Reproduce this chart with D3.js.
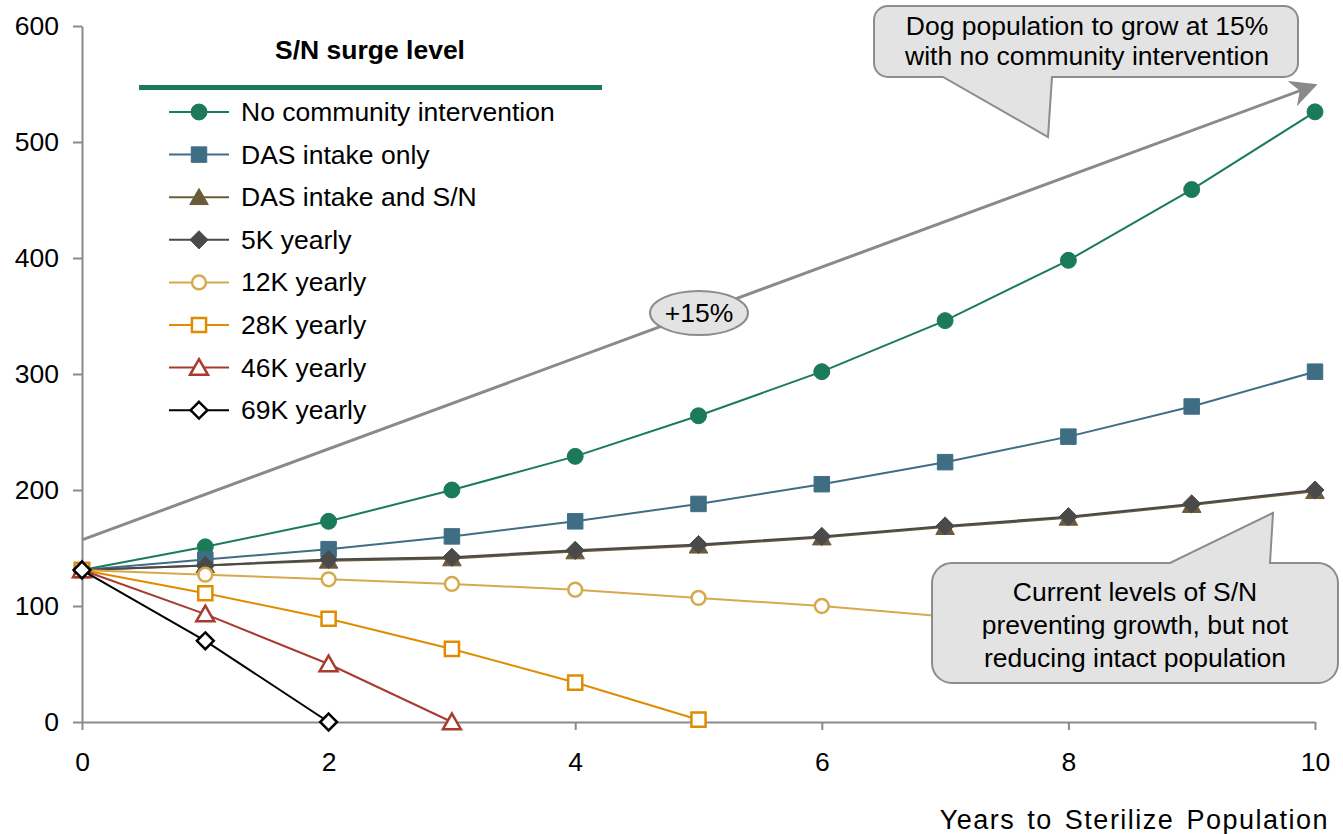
<!DOCTYPE html>
<html>
<head>
<meta charset="utf-8">
<script src="https://cdn.jsdelivr.net/npm/d3@7"></script>
<style>
  html, body { margin: 0; padding: 0; background: #fff; }
  svg { display: block; font-family: "Liberation Sans", Arial, sans-serif; }
</style>
</head>
<body>
<svg id="chart" width="1343" height="834"></svg>
<script>
// ---------------- DATA ----------------
const years = [0, 1, 2, 3, 4, 5, 6, 7, 8, 9, 10];
const seriesNames = ["No community intervention", "DAS intake only", "DAS intake and S/N",
  "5K yearly", "12K yearly", "28K yearly", "46K yearly", "69K yearly"];
const noIntervention = [131, 151, 173, 200, 229, 264, 302, 346, 398, 459, 526];
const dasIntakeOnly  = [131, 140, 149, 160, 173, 188, 205, 224, 246, 272, 302];
const dasIntakeSN    = [131, 135, 139, 141, 147, 152, 159, 168, 176, 187, 199];
const k5Yearly       = [131, 135, 140, 142, 148, 153, 160, 169, 177, 188, 200];
const k12Yearly      = [131, 127, 123, 119, 114, 107, 100, 91, 82, 72, 61];
const k28Yearly      = [131, 111, 89, 63, 34, 2];
const k46Yearly      = [131, 93, 50, 0];
const k69Yearly      = [131, 70, 0];
const yTicks = [0, 100, 200, 300, 400, 500, 600];
const xTicks = [0, 2, 4, 6, 8, 10];
const growthLine = [[0, 157], [10, 549]];   // "+15%" arrow
const legendTitle = "S/N surge level";
const xTitle = "Years to Sterilize Population";
const callout1 = ["Dog population to grow at 15%", "with no community intervention"];
const callout2 = ["Current levels of S/N", "preventing growth, but not", "reducing intact population"];
const growthLabel = "+15%";

// ---------------- STYLE ----------------
const styles = [
  { color: "#1b7b58", shape: "circle",   filled: true },
  { color: "#3f6e84", shape: "square",   filled: true },
  { color: "#6b5b3b", shape: "triangle", filled: true },
  { color: "#4a4a4a", shape: "diamond",  filled: true },
  { color: "#d6a94c", shape: "circle",   filled: false },
  { color: "#e08c00", shape: "square",   filled: false },
  { color: "#a83a2e", shape: "triangle", filled: false },
  { color: "#000000", shape: "diamond",  filled: false }
];
const seriesValues = [noIntervention, dasIntakeOnly, dasIntakeSN, k5Yearly, k12Yearly, k28Yearly, k46Yearly, k69Yearly];
const series = seriesNames.map((name, i) => ({
  name, ...styles[i],
  points: seriesValues[i].map((v, j) => ({ x: years[j], y: v }))
}));

const svg = d3.select("#chart");
const x = d3.scaleLinear().domain([0, 10]).range([82, 1315]);
const y = d3.scaleLinear().domain([0, 600]).range([722, 26]);
const axisGray = "#8a8a8a";
const FONT = 26.5;

// ---------------- AXES ----------------
const yAxis = svg.append("g").attr("transform", `translate(${x(0)},0)`)
  .call(d3.axisLeft(y).tickValues(yTicks).tickSize(9).tickSizeOuter(0).tickPadding(14));
const xAxis = svg.append("g").attr("transform", `translate(0,${y(0)})`)
  .call(d3.axisBottom(x).tickValues(xTicks).tickSize(8).tickSizeOuter(0).tickPadding(22));
[yAxis, xAxis].forEach(g => {
  g.select(".domain").attr("stroke", axisGray).attr("stroke-width", 2);
  g.selectAll(".tick line").attr("stroke", axisGray).attr("stroke-width", 2);
  g.selectAll(".tick text").attr("fill", "#000").style("font-size", FONT + "px")
    .style("font-family", "'Liberation Sans', Arial, sans-serif");
});

svg.append("text").attr("x", 1329).attr("y", 829).attr("text-anchor", "end")
  .style("font-size", "27px").attr("letter-spacing", "1.5px").attr("word-spacing", "3px").text(xTitle);

// ---------------- MARKERS ----------------
function drawMarker(g, s, cx, cy) {
  let size, sym;
  if (s.shape === "circle") { sym = d3.symbolCircle; size = s.filled ? 200 : 150; }
  else if (s.shape === "square") { sym = d3.symbolSquare; size = s.filled ? 240 : 200; }
  else if (s.shape === "triangle") { sym = d3.symbolTriangle; size = s.filled ? 150 : 140; }
  else { sym = d3.symbolDiamond2; size = s.filled ? 210 : 180; }
  const p = g.append("path").attr("d", d3.symbol().type(sym).size(size)())
    .attr("transform", `translate(${cx},${cy + (s.shape === "triangle" ? 2 : 0)})`);
  if (s.filled) p.attr("fill", s.color).attr("stroke", s.color).attr("stroke-width", 1);
  else p.attr("fill", "#fff").attr("stroke", s.color).attr("stroke-width", 2.5);
}

// ---------------- SERIES ----------------
const line = d3.line().x(d => x(d.x)).y(d => y(d.y));
series.forEach(s => {
  const g = svg.append("g");
  g.append("path").datum(s.points).attr("d", line).attr("fill", "none")
    .attr("stroke", s.color).attr("stroke-width", 2);
  s.points.forEach(p => drawMarker(g, s, x(p.x), y(p.y)));
});

// ---------------- GROWTH ARROW ----------------
svg.append("defs").append("marker").attr("id", "arrow")
  .attr("viewBox", "0 0 10 10").attr("refX", 9).attr("refY", 5)
  .attr("markerWidth", 9).attr("markerHeight", 9).attr("markerUnits", "strokeWidth")
  .attr("orient", "auto")
  .append("path").attr("d", "M0,0 L10,5 L0,10 L3,5 Z").attr("fill", axisGray);
svg.append("path").datum(growthLine)
  .attr("d", d3.line().x(d => x(d[0])).y(d => y(d[1])))
  .attr("stroke", axisGray).attr("stroke-width", 3).attr("fill", "none")
  .attr("marker-end", "url(#arrow)");

// "+15%" ellipse
const ex = 699, ey = 313;
svg.append("ellipse").attr("cx", ex).attr("cy", ey).attr("rx", 49).attr("ry", 22)
  .attr("fill", "#e3e3e3").attr("stroke", "#8c8c8c").attr("stroke-width", 2);
svg.append("text").attr("x", ex).attr("y", ey + 9).attr("text-anchor", "middle")
  .style("font-size", FONT + "px").text(growthLabel);

// ---------------- CALLOUTS ----------------
function calloutPath(x0, y0, x1, y1, r, tail) {
  const p = d3.path();
  p.moveTo(x0 + r, y0);
  if (tail.side === "top") { p.lineTo(tail.a, y0); p.lineTo(tail.tx, tail.ty); p.lineTo(tail.b, y0); }
  p.lineTo(x1 - r, y0);
  p.arcTo(x1, y0, x1, y0 + r, r);
  p.lineTo(x1, y1 - r);
  p.arcTo(x1, y1, x1 - r, y1, r);
  if (tail.side === "bottom") { p.lineTo(tail.b, y1); p.lineTo(tail.tx, tail.ty); p.lineTo(tail.a, y1); }
  p.lineTo(x0 + r, y1);
  p.arcTo(x0, y1, x0, y1 - r, r);
  p.lineTo(x0, y0 + r);
  p.arcTo(x0, y0, x0 + r, y0, r);
  p.closePath();
  return p.toString();
}
svg.append("path")
  .attr("d", calloutPath(874, 6, 1298, 77, 14, { side: "bottom", a: 943, b: 1052, tx: 1048, ty: 137 }))
  .attr("fill", "#e3e3e3").attr("stroke", "#8c8c8c").attr("stroke-width", 2);
callout1.forEach((t, i) => svg.append("text").attr("x", 1087).attr("y", 35 + i * 30)
  .attr("text-anchor", "middle").style("font-size", FONT + "px").text(t));

svg.append("path")
  .attr("d", calloutPath(932, 563, 1338, 683, 20, { side: "top", a: 1170, b: 1270, tx: 1273, ty: 513 }))
  .attr("fill", "#e3e3e3").attr("stroke", "#8c8c8c").attr("stroke-width", 2);
callout2.forEach((t, i) => svg.append("text").attr("x", 1135).attr("y", 601 + i * 33)
  .attr("text-anchor", "middle").style("font-size", FONT + "px").text(t));

// ---------------- LEGEND ----------------
svg.append("text").attr("x", 370).attr("y", 59).attr("text-anchor", "middle")
  .style("font-size", FONT + "px").style("font-weight", "bold").text(legendTitle);
svg.append("line").attr("x1", 139).attr("x2", 602).attr("y1", 87.5).attr("y2", 87.5)
  .attr("stroke", "#1b7b58").attr("stroke-width", 5);
series.forEach((s, i) => {
  const cy = 112 + i * 42.6;
  const g = svg.append("g");
  g.append("line").attr("x1", 169).attr("x2", 229).attr("y1", cy).attr("y2", cy)
    .attr("stroke", s.color).attr("stroke-width", 2);
  drawMarker(g, s, 199, cy);
  g.append("text").attr("x", 241).attr("y", cy + 9).style("font-size", FONT + "px").text(s.name);
});
</script>
</body>
</html>
